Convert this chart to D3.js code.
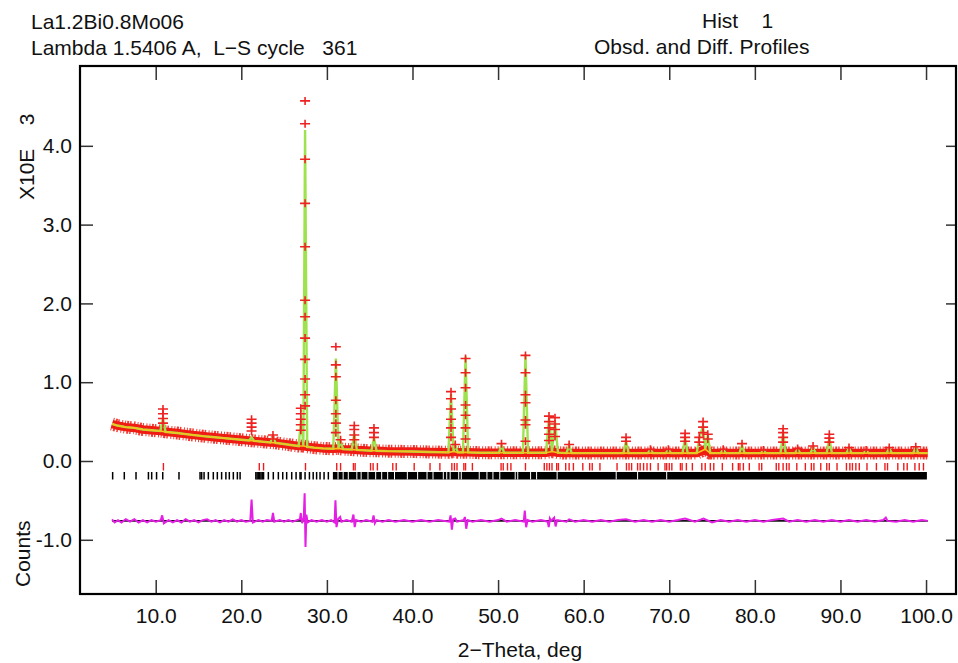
<!DOCTYPE html>
<html>
<head>
<meta charset="utf-8">
<script src="https://cdn.jsdelivr.net/npm/d3@7"></script>
<style>
  body { margin: 0; background: #fff; }
  svg text { font-family: "Liberation Sans", Arial, sans-serif; font-size: 21px; fill: #111; white-space: pre; }
</style>
</head>
<body>
<div id="plot"></div>
<script>
// counts are in units of 10^3 (the "X10E 3" axis)

// background under the profile, with the feet of each reflection
var bgTheta = [4.9, 5.5, 6.5, 7.5, 8.5, 9.5, 10.55, 11.15, 12.5, 14, 16, 18, 20, 20.9, 21.5,
  23.4, 24.0, 25, 26.0, 26.7, 27.25, 27.7, 28.5, 29.5, 30.75, 31.35, 31.9, 32.9, 33.5, 35.2,
  35.8, 37, 40, 42, 44.2, 44.8, 45.3, 45.9, 46.5, 48, 50.1, 50.7, 52.9, 53.5, 55.6, 56.3,
  57.0, 58.0, 58.6, 62, 64.65, 65.25, 67.5, 68.1, 69.6, 70.2, 71.55, 72.15, 73.2, 74.2, 74.8,
  76.0, 76.6, 78.2, 78.8, 80.7, 81.3, 83.0, 83.6, 84.7, 85.3, 86.5, 87.1, 88.4, 89.0, 90.7,
  91.3, 92.7, 93.3, 95.4, 96.0, 98.5, 99.1, 100.2];
var bgCounts = [0.47, 0.45, 0.43, 0.42, 0.40, 0.39, 0.38, 0.37, 0.355, 0.335, 0.31, 0.29, 0.27, 0.26, 0.255,
  0.235, 0.23, 0.215, 0.20, 0.19, 0.19, 0.18, 0.17, 0.16, 0.155, 0.16, 0.15, 0.145, 0.14, 0.13,
  0.13, 0.125, 0.12, 0.115, 0.11, 0.12, 0.11, 0.11, 0.11, 0.105, 0.105, 0.105, 0.105, 0.105, 0.105, 0.12,
  0.105, 0.1, 0.1, 0.1, 0.1, 0.1, 0.1, 0.1, 0.1, 0.1, 0.1, 0.1, 0.1, 0.15, 0.1,
  0.1, 0.1, 0.1, 0.1, 0.1, 0.1, 0.1, 0.1, 0.1, 0.1, 0.1, 0.1, 0.1, 0.1, 0.1,
  0.1, 0.1, 0.1, 0.1, 0.1, 0.1, 0.1, 0.1];

// reflection maxima of the calculated profile
var peakTheta = [10.85, 21.2, 23.7, 27.0, 27.45, 31.05, 31.6, 33.2, 35.5, 44.5, 45.0, 46.2, 50.4,
  53.2, 55.95, 56.65, 58.3, 64.95, 67.8, 69.9, 71.85, 73.5, 73.95, 74.5, 76.3, 78.5, 81.0,
  83.3, 85.0, 86.8, 88.7, 91.0, 93.0, 95.7, 98.8];
var peakCalc = [0.55, 0.3, 0.3, 0.55, 4.2, 1.3, 0.25, 0.35, 0.3, 0.85, 0.2, 1.33, 0.2,
  1.35, 0.55, 0.5, 0.2, 0.26, 0.14, 0.14, 0.3, 0.28, 0.45, 0.32, 0.14, 0.2, 0.13,
  0.36, 0.15, 0.17, 0.3, 0.16, 0.13, 0.16, 0.17];

// observed points that stand out of the band
var obsTheta = [10.85, 10.85, 10.85, 10.85, 21.2, 21.2, 21.2, 21.2, 23.7, 23.7,
  26.95, 26.95, 26.95, 26.95, 26.95,
  27.45, 27.45, 27.45, 27.45, 27.45, 27.45, 27.45, 27.45, 27.45, 27.45, 27.45, 27.45,
  31.05, 31.05, 31.05, 31.05, 31.05, 31.05, 31.05, 31.6, 33.2, 33.2, 33.2, 33.2, 35.5, 35.5, 35.5,
  44.5, 44.5, 44.5, 44.5, 44.5, 44.5, 45.0, 46.2, 46.2, 46.2, 46.2, 46.2, 46.2, 46.2, 50.4,
  53.2, 53.2, 53.2, 53.2, 53.2, 53.2, 53.2, 55.95, 55.95, 55.95, 55.95, 55.95,
  56.65, 56.65, 56.65, 56.65, 58.3, 64.95, 64.95, 67.8, 69.9, 71.85, 71.85, 71.85, 73.5, 73.5,
  73.95, 73.95, 73.95, 74.5, 74.5, 76.3, 78.5, 81.0, 83.3, 83.3, 83.3, 83.3, 85.0, 86.8,
  88.7, 88.7, 88.7, 91.0, 93.0, 95.7, 98.8];
var obsCounts = [0.66, 0.6, 0.54, 0.48, 0.53, 0.48, 0.43, 0.38, 0.33, 0.28,
  0.67, 0.6, 0.53, 0.46, 0.39,
  4.57, 4.28, 3.83, 3.27, 2.72, 2.04, 1.83, 1.56, 1.29, 1.04, 0.84, 0.7,
  1.45, 1.22, 1.07, 0.77, 0.6, 0.48, 0.36, 0.27, 0.45, 0.4, 0.33, 0.27, 0.42, 0.36, 0.3,
  0.88, 0.79, 0.66, 0.53, 0.42, 0.3, 0.21, 1.3, 1.12, 0.93, 0.71, 0.58, 0.42, 0.28, 0.22,
  1.34, 1.12, 0.84, 0.74, 0.52, 0.46, 0.25, 0.57, 0.5, 0.42, 0.34, 0.26,
  0.55, 0.47, 0.4, 0.31, 0.21, 0.3, 0.25, 0.15, 0.15, 0.35, 0.3, 0.25, 0.3, 0.24,
  0.5, 0.43, 0.36, 0.34, 0.28, 0.15, 0.22, 0.14, 0.41, 0.36, 0.3, 0.24, 0.16, 0.19,
  0.34, 0.29, 0.24, 0.17, 0.14, 0.17, 0.18];

// difference curve (obs - calc), drawn about diffZero
var diffZero = -0.76;
var diffTheta = [4.9, 5.2, 5.6, 6.0, 6.5, 7.0, 7.5, 8.0, 8.5, 9.0, 9.5, 10.0, 10.6, 10.75, 10.95,
  11.5, 12, 12.5, 13, 13.5, 14, 14.5, 15, 15.5, 16, 16.5, 17, 17.5, 18, 18.5, 19, 19.5, 20,
  20.5, 21.05, 21.2, 21.35, 22, 22.5, 23, 23.55, 23.7, 23.85, 24.5, 25, 25.5, 26, 26.5,
  26.85, 26.95, 27.1, 27.3, 27.4, 27.5, 27.6, 27.75, 28.2, 28.8, 29.4, 30, 30.5, 30.9, 31.0,
  31.12, 31.3, 31.55, 31.7, 32.3, 32.9, 33.1, 33.25, 33.4, 34, 34.6, 35.3, 35.45, 35.6, 35.8,
  36.5, 37.2, 38, 39, 40, 41, 42, 43, 44.3, 44.45, 44.6, 44.75, 45.0, 45.2, 46.0, 46.12,
  46.28, 46.45, 47, 48, 49, 50, 50.4, 51, 52, 53.0, 53.12, 53.28, 53.45, 54, 55, 55.8,
  55.92, 56.05, 56.2, 56.55, 56.72, 56.9, 58, 58.3, 59, 60, 61, 62, 63, 64, 64.95, 66, 67,
  68, 69, 70, 71, 71.85, 73, 74, 75, 76, 77, 78, 79, 80, 81, 82, 83.3, 84, 85, 86, 87, 88,
  89, 90, 91, 92, 93, 94, 95, 95.3, 95.5, 96.5, 97.5, 98.5, 99.5, 100.2];
var diffCounts = [0.02, -0.02, 0.01, -0.02, 0.02, -0.01, 0.02, -0.02, 0.01, -0.02, 0.01, -0.01, 0.01, 0.07, -0.03,
  0.01, -0.02, 0.01, -0.02, 0.02, -0.01, 0.01, -0.02, 0.01, 0.02, -0.01, 0.01, -0.02, 0.01, -0.01, 0.02, -0.01, 0.01,
  -0.01, 0, 0.27, -0.02, 0.01, -0.01, 0.01, 0, 0.1, -0.01, 0.01, -0.01, 0.01, -0.01, 0.01,
  0.02, 0.1, -0.03, 0.04, 0.35, -0.33, 0.08, -0.02, 0.01, -0.01, 0.01, -0.01, 0.01, -0.02, 0.26,
  -0.08, 0.02, 0.05, -0.01, 0.01, -0.01, 0.08, -0.08, 0.01, -0.01, 0.01, -0.01, 0.07, -0.03, 0.01,
  -0.01, 0.01, -0.01, 0.01, -0.01, 0.01, -0.01, 0.01, -0.01, 0.07, -0.11, 0.02, 0.03, -0.01, 0.01, 0.05,
  -0.1, 0.01, -0.01, 0.01, -0.01, 0.01, 0.03, -0.01, 0.01, -0.01, 0.13, -0.08, 0.01, -0.01, 0.01, -0.01,
  -0.08, 0.03, 0, 0.04, -0.07, 0.01, -0.01, 0.02, -0.01, 0.01, -0.01, 0.01, -0.01, 0.01, 0.02, -0.01, 0.01,
  -0.01, 0.01, -0.01, 0.01, 0.03, -0.01, 0.03, -0.02, 0.01, -0.01, 0.01, -0.01, 0.01, -0.01, 0.01, 0.03, -0.01, 0.01, -0.01, 0.01, -0.01,
  0.01, -0.01, 0.01, -0.01, 0.01, -0.01, 0.01, 0.04, 0, -0.01, 0.01, -0.01, 0.01, 0];

// reflection markers, second phase (red row)
var redTicks = [10.9, 22.1, 22.6, 27.5, 31.15, 31.6, 33.1, 33.3, 35.1, 35.4, 35.9, 37.7, 38.1,
  40.2, 42.05, 43.2, 44.6, 44.9, 45.2, 46.0, 46.2, 47.0, 50.35, 50.6, 51.1, 51.5, 53.2, 55.4,
  55.7, 56.0, 56.3, 56.85, 57.05, 57.9, 58.3, 58.8, 59.9, 60.7, 61.0, 61.9, 63.9, 65.0, 65.3,
  65.6, 66.3, 66.6, 67.0, 67.4, 67.8, 68.7, 69.5, 69.7, 70.0, 70.3, 71.3, 71.5, 72.0, 72.7,
  73.8, 74.2, 74.8, 75.2, 76.2, 77.4, 78.07, 78.26, 78.66, 79.35, 80.5, 80.8, 82.5, 82.8,
  83.3, 83.7, 84.0, 84.9, 85.9, 86.6, 86.9, 87.7, 88.4, 88.7, 89.6, 90.7, 91.1, 91.4, 91.8,
  92.2, 93.1, 94.2, 95.2, 95.5, 96.7, 97.4, 97.8, 98.7, 99.2, 99.7];
// reflection markers, main phase (black row): single ticks at low angle ...
var blackTicks = [4.97, 6.33, 7.7, 9.15, 9.53, 10.1, 10.82, 12.72, 15.18, 15.37, 15.65, 16.15,
  16.73, 17.2, 17.7, 18.2, 18.6, 19.07, 19.54, 19.86, 21.7, 21.85, 22.0, 22.15, 22.3, 22.45,
  22.6, 23.16, 23.74, 24.33, 24.84, 25.3, 25.89, 26.4, 26.86, 26.98, 27.45, 27.96, 28.4,
  28.8, 29.2, 29.67, 30.17];
// ... and a solid run above 30.7 deg with a few narrow gaps
var blackRun = [30.7, 100.1];
var blackGaps = [31.3, 31.9, 32.5, 33.5, 34.0, 34.8, 35.7, 36.4, 37.1, 37.9, 39.4, 40.6, 41.7,
  42.4, 43.6, 44.0, 44.4, 45.4, 45.7, 47.8, 48.7, 49.4, 50.2, 52.0, 52.3, 53.8, 54.5, 56.9,
  63.8, 66.3, 69.7];

var xTicks = [10, 20, 30, 40, 50, 60, 70, 80, 90, 100];
var yTicks = [-1, 0, 1, 2, 3, 4];

var width = 958, height = 663;
var frame = {left: 80, top: 66, right: 956, bottom: 594};

var svg = d3.select("#plot").append("svg")
    .attr("width", width)
    .attr("height", height);

var x = d3.scaleLinear().domain([1.155, 103.5]).range([frame.left, frame.right]);
var y = d3.scaleLinear().domain([-1.688, 5.013]).range([frame.bottom, frame.top]);

var line = d3.line().x(function(d) { return x(d[0]); }).y(function(d) { return y(d[1]); });

var bgPts = bgTheta.map(function(t, i) { return [t, bgCounts[i]]; });
var peakPts = peakTheta.map(function(t, i) { return [t, peakCalc[i]]; });
var calcPts = bgPts.concat(peakPts).sort(function(a, b) { return a[0] - b[0]; });

var plot = svg.append("g");

// observed points: a dense band of crosses along the background
plot.append("path")
    .attr("d", line(bgPts))
    .attr("fill", "none")
    .attr("stroke", "#f01c14")
    .attr("stroke-width", 13)
    .attr("stroke-dasharray", "1 1.5 2 1 1.5 2.5 1 2")
    .attr("stroke-opacity", 0.85);

plot.append("path")
    .attr("d", line(bgPts))
    .attr("fill", "none")
    .attr("stroke", "#f01c14")
    .attr("stroke-width", 8.5)
    .attr("stroke-linejoin", "round");

// calculated profile
plot.append("path")
    .attr("d", line(calcPts))
    .attr("fill", "none")
    .attr("stroke", "#9ee24e")
    .attr("stroke-width", 2.4);

plot.append("g").selectAll("path")
    .data(obsTheta.map(function(t, i) { return [t, obsCounts[i]]; }))
    .enter().append("path")
    .attr("d", function(d) {
      var cx = x(d[0]), cy = y(d[1]);
      return "M" + (cx - 5) + "," + cy + "h10M" + cx + "," + (cy - 4) + "v8";
    })
    .attr("stroke", "#ee2222")
    .attr("stroke-width", 1.6);

plot.append("path")
    .attr("d", line(bgPts))
    .attr("fill", "none")
    .attr("stroke", "#f2c41c")
    .attr("stroke-width", 1.6);

// reflection markers
var y0 = y(0);
plot.append("g").selectAll("line")
    .data(redTicks)
    .enter().append("line")
    .attr("x1", function(d) { return x(d); })
    .attr("x2", function(d) { return x(d); })
    .attr("y1", y0 + 2).attr("y2", y0 + 9.5)
    .attr("stroke", "#ee1c1c")
    .attr("stroke-width", 1.4);

plot.append("g").selectAll("line")
    .data(blackTicks)
    .enter().append("line")
    .attr("x1", function(d) { return x(d); })
    .attr("x2", function(d) { return x(d); })
    .attr("y1", y0 + 11).attr("y2", y0 + 18.5)
    .attr("stroke", "#000")
    .attr("stroke-width", 1.5);

plot.append("rect")
    .attr("x", x(blackRun[0]))
    .attr("width", x(blackRun[1]) - x(blackRun[0]))
    .attr("y", y0 + 11).attr("height", 7.5)
    .attr("fill", "#000");

plot.append("g").selectAll("line")
    .data(blackGaps)
    .enter().append("line")
    .attr("x1", function(d) { return x(d); })
    .attr("x2", function(d) { return x(d); })
    .attr("y1", y0 + 11).attr("y2", y0 + 18.5)
    .attr("stroke", "#fff")
    .attr("stroke-width", 1);

// difference curve
plot.append("path")
    .attr("d", line([[diffTheta[0], diffZero], [diffTheta[diffTheta.length - 1], diffZero]]))
    .attr("stroke", "#111")
    .attr("stroke-width", 1.6);

plot.append("path")
    .attr("d", line(diffTheta.map(function(t, i) { return [t, diffZero + diffCounts[i]]; })))
    .attr("fill", "none")
    .attr("stroke", "#e41ee4")
    .attr("stroke-width", 2);

// axes: ticks point inwards on all four sides
function styleAxis(g) {
  g.select(".domain").remove();
  g.selectAll(".tick line").attr("stroke", "#333").attr("stroke-width", 1.5);
  g.selectAll(".tick text")
    .attr("font-size", 21)
    .attr("font-family", "'Liberation Sans', Arial, sans-serif")
    .attr("fill", "#111");
}

svg.append("g")
    .attr("transform", "translate(0," + frame.bottom + ")")
    .call(d3.axisBottom(x).tickValues(xTicks).tickSizeInner(-14).tickSizeOuter(0)
      .tickPadding(14).tickFormat(d3.format(".1f")))
    .call(styleAxis);

svg.append("g")
    .attr("transform", "translate(0," + frame.top + ")")
    .call(d3.axisTop(x).tickValues(xTicks).tickSizeInner(-14).tickSizeOuter(0).tickFormat(""))
    .call(styleAxis);

svg.append("g")
    .attr("transform", "translate(" + frame.left + ",0)")
    .call(d3.axisLeft(y).tickValues(yTicks).tickSizeInner(-13).tickSizeOuter(0)
      .tickPadding(8).tickFormat(function(d) { return d3.format(".1f")(d).replace("\u2212", "-"); }))
    .call(styleAxis);

svg.append("g")
    .attr("transform", "translate(" + frame.right + ",0)")
    .call(d3.axisRight(y).tickValues(yTicks).tickSizeInner(-10).tickSizeOuter(0).tickFormat(""))
    .call(styleAxis);

svg.append("rect")
    .attr("x", frame.left).attr("y", frame.top)
    .attr("width", frame.right - frame.left)
    .attr("height", frame.bottom - frame.top)
    .attr("fill", "none")
    .attr("stroke", "#000")
    .attr("stroke-width", 2.2);

// titles
svg.append("text").attr("x", 31).attr("y", 29).text("La1.2Bi0.8Mo06");
svg.append("text").attr("x", 31).attr("y", 55).text("Lambda 1.5406 A,  L\u2212S cycle   361");
svg.append("text").attr("x", 702).attr("y", 28).text("Hist    1");
svg.append("text").attr("x", 594).attr("y", 54).text("Obsd. and Diff. Profiles");

svg.append("text")
    .attr("transform", "translate(34,200) rotate(-90)")
    .text("X10E    3");
svg.append("text")
    .attr("transform", "translate(30,587) rotate(-90)")
    .text("Counts");
svg.append("text")
    .attr("x", 520).attr("y", 657)
    .attr("text-anchor", "middle")
    .text("2\u2212Theta, deg");
</script>
</body>
</html>
